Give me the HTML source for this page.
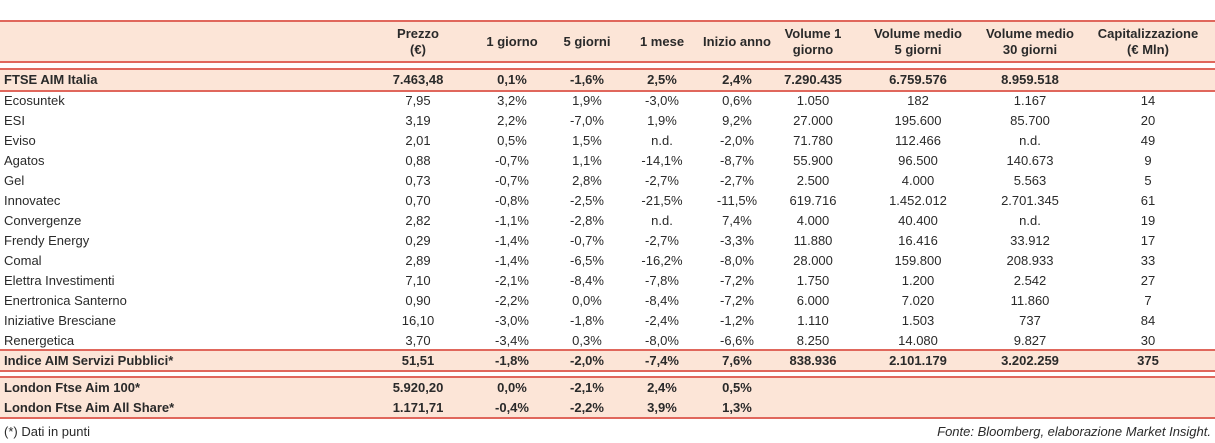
<!DOCTYPE html>
<html><head><meta charset="utf-8"><style>
body{margin:0;width:1215px;height:443px;background:#fff;position:relative;overflow:hidden;font-family:"Liberation Sans",sans-serif;color:#2a2a2a}
.ln{position:absolute;left:0;width:1215px;height:2px;background:#e0675c}
.fill{position:absolute;left:0;width:1215px;background:#fce5d7}
.c{position:absolute;font-size:13px;white-space:nowrap;line-height:14px}
.b{font-weight:bold}
.h{position:absolute;font-size:13px;font-weight:bold;text-align:center;line-height:16px;transform:translateX(-50%);white-space:nowrap}
</style></head><body>
<div class="fill" style="top:22px;height:40px"></div>
<div class="fill" style="top:70px;height:20px"></div>
<div class="fill" style="top:351px;height:20px"></div>
<div class="fill" style="top:378px;height:40px"></div>
<div class="ln" style="top:20px"></div>
<div class="ln" style="top:61px"></div>
<div class="ln" style="top:68px"></div>
<div class="ln" style="top:90px"></div>
<div class="ln" style="top:349px"></div>
<div class="ln" style="top:370px"></div>
<div class="ln" style="top:376px"></div>
<div class="ln" style="top:417px"></div>
<div id="t"></div>
<div class="c" style="left:4px;top:425px">(*) Dati in punti</div>
<div class="c" style="right:4px;top:425px;font-style:italic">Fonte: Bloomberg, elaborazione Market Insight.</div>
<script>
const headers=[["Prezzo","(€)"],["1 giorno"],["5 giorni"],["1 mese"],["Inizio anno"],["Volume 1","giorno"],["Volume medio","5 giorni"],["Volume medio","30 giorni"],["Capitalizzazione","(€ Mln)"]];
const colX=[418,512,587,662,737,813,918,1030,1148];
const rows=[
["FTSE AIM Italia","7.463,48","0,1%","-1,6%","2,5%","2,4%","7.290.435","6.759.576","8.959.518",""],
["Ecosuntek","7,95","3,2%","1,9%","-3,0%","0,6%","1.050","182","1.167","14"],
["ESI","3,19","2,2%","-7,0%","1,9%","9,2%","27.000","195.600","85.700","20"],
["Eviso","2,01","0,5%","1,5%","n.d.","-2,0%","71.780","112.466","n.d.","49"],
["Agatos","0,88","-0,7%","1,1%","-14,1%","-8,7%","55.900","96.500","140.673","9"],
["Gel","0,73","-0,7%","2,8%","-2,7%","-2,7%","2.500","4.000","5.563","5"],
["Innovatec","0,70","-0,8%","-2,5%","-21,5%","-11,5%","619.716","1.452.012","2.701.345","61"],
["Convergenze","2,82","-1,1%","-2,8%","n.d.","7,4%","4.000","40.400","n.d.","19"],
["Frendy Energy","0,29","-1,4%","-0,7%","-2,7%","-3,3%","11.880","16.416","33.912","17"],
["Comal","2,89","-1,4%","-6,5%","-16,2%","-8,0%","28.000","159.800","208.933","33"],
["Elettra Investimenti","7,10","-2,1%","-8,4%","-7,8%","-7,2%","1.750","1.200","2.542","27"],
["Enertronica Santerno","0,90","-2,2%","0,0%","-8,4%","-7,2%","6.000","7.020","11.860","7"],
["Iniziative Bresciane","16,10","-3,0%","-1,8%","-2,4%","-1,2%","1.110","1.503","737","84"],
["Renergetica","3,70","-3,4%","0,3%","-8,0%","-6,6%","8.250","14.080","9.827","30"],
["Indice AIM Servizi Pubblici*","51,51","-1,8%","-2,0%","-7,4%","7,6%","838.936","2.101.179","3.202.259","375"],
["London Ftse Aim 100*","5.920,20","0,0%","-2,1%","2,4%","0,5%","","","",""],
["London Ftse Aim All Share*","1.171,71","-0,4%","-2,2%","3,9%","1,3%","","","",""]];
const rowY=[73,94,114,134,154,174,194,214,234,254,274,294,314,334,354,381,401];
const boldRows=[0,14,15,16];
const t=document.getElementById('t');
headers.forEach((h,i)=>{const d=document.createElement('div');d.className='h';


d.style.left=colX[i]+'px';d.style.top=(h.length==2?26:34)+'px';d.innerHTML=h.join('<br>');t.appendChild(d);});
rows.forEach((r,ri)=>{r.forEach((v,ci)=>{if(!v)return;const d=document.createElement('div');
d.className='c'+(boldRows.includes(ri)?' b':'');


d.style.top=rowY[ri]+'px';d.textContent=v;
if(ci==0){d.style.left='4px';}
else{d.style.left=colX[ci-1]+'px';d.style.transform='translateX(-50%)';}
t.appendChild(d);});});
</script>
</body></html>
